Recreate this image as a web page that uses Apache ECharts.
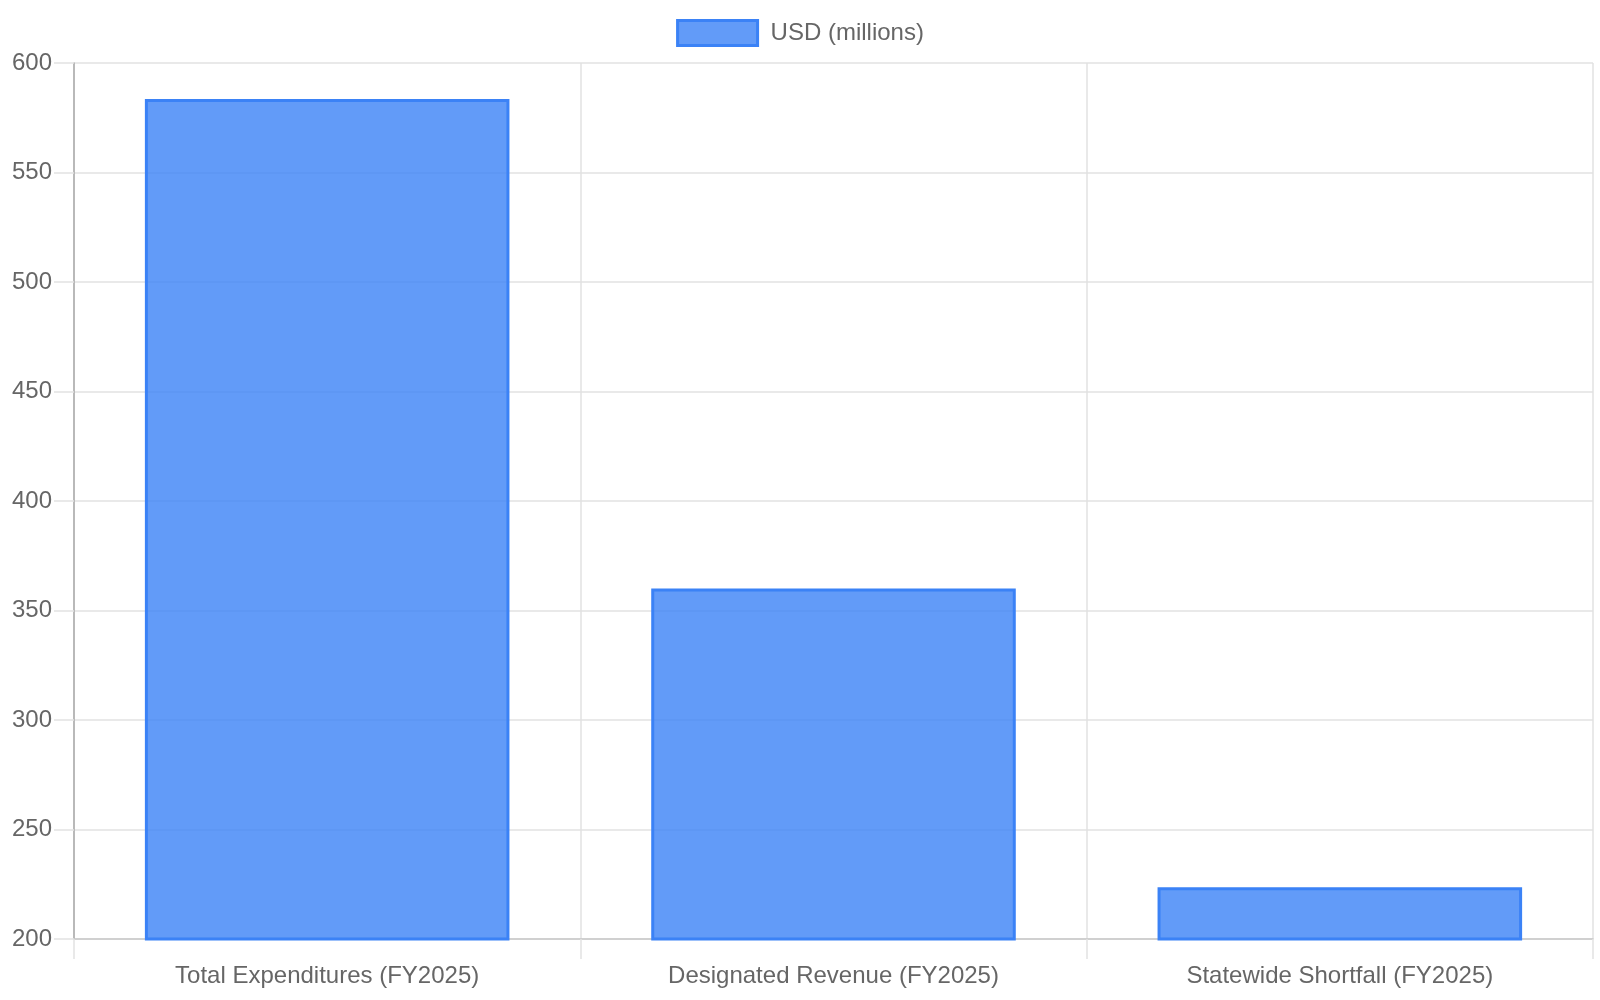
<!DOCTYPE html>
<html>
<head>
<meta charset="utf-8">
<script src="https://cdn.jsdelivr.net/npm/echarts@6/dist/echarts.min.js"></script>
<style>
html,body{margin:0;padding:0;background:#fff;}
#chart{width:1600px;height:1000px;}
</style>
</head>
<body>
<div id="chart"></div>
<script>
const categories = ['Total Expenditures (FY2025)', 'Designated Revenue (FY2025)', 'Statewide Shortfall (FY2025)'];
const seriesName = 'USD (millions)';
const values = [583.6, 360, 223.6];
const yMin = 200, yMax = 600, yStep = 50;

const chart = echarts.init(document.getElementById('chart'));
const font = '"Liberation Sans", Arial, sans-serif';
chart.setOption({
  animation: false,
  textStyle: { fontFamily: font },
  legend: {
    top: 14,
    left: 'center',
    icon: 'rect',
    itemWidth: 80,
    itemHeight: 25,
    itemGap: 10,
    itemStyle: { borderColor: '#3b82f6', borderWidth: 3 },
    textStyle: { fontSize: 24, color: '#666', fontFamily: font, padding: [0, 0, 0, 8] },
    data: [seriesName]
  },
  grid: { left: 74, right: 7, top: 63, bottom: 61, containLabel: false },
  xAxis: {
    type: 'category',
    data: categories,
    boundaryGap: true,
    axisLine: { show: true, lineStyle: { color: '#c8c8c8', width: 1.5 } },
    axisTick: { show: true, length: 20, lineStyle: { color: '#e2e2e2', width: 1.5 } },
    splitLine: { show: true, lineStyle: { color: '#e2e2e2', width: 1.5 } },
    axisLabel: { fontSize: 24, color: '#666', margin: 25, fontFamily: font }
  },
  yAxis: {
    type: 'value',
    min: yMin, max: yMax, interval: yStep,
    axisLine: { show: true, lineStyle: { color: '#aaaaaa', width: 1.5 } },
    axisTick: { show: true, length: 20, lineStyle: { color: '#e2e2e2', width: 1.5 } },
    splitLine: { show: true, lineStyle: { color: '#e2e2e2', width: 1.5 } },
    axisLabel: { fontSize: 24, color: '#666', margin: 22, fontFamily: font }
  },
  series: [{
    name: seriesName,
    type: 'bar',
    data: values,
    barWidth: '72%',
    itemStyle: {
      color: 'rgba(59,130,246,0.8)',
      borderColor: '#3b82f6',
      borderWidth: 3
    }
  }]
});
</script>
</body>
</html>
